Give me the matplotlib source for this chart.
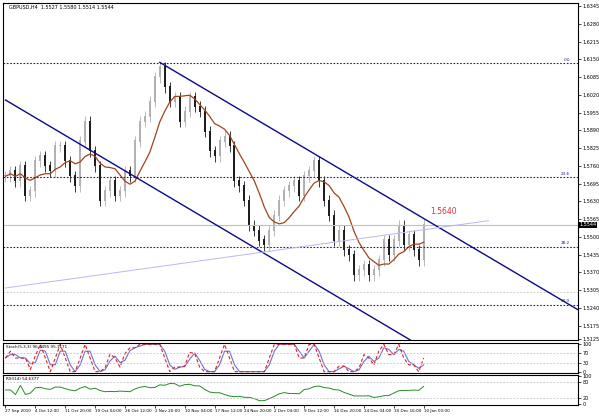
import numpy as np
import pandas as pd
import matplotlib
matplotlib.use("Agg")
import matplotlib.pyplot as plt

# closes of GBPUSD H4, compressed (one value ~ 5 px of the original chart)
closes = [1.5722, 1.5740, 1.5704, 1.5759, 1.5650, 1.5668, 1.5777, 1.5795, 1.5759, 1.5740,
          1.5831, 1.5831, 1.5777, 1.5722, 1.5686, 1.5849, 1.5921, 1.5813, 1.5759, 1.5632,
          1.5668, 1.5704, 1.5650, 1.5668, 1.5740, 1.5722, 1.5849, 1.5921, 1.5940, 1.5994,
          1.6084, 1.6121, 1.6048, 1.5994, 1.6012, 1.5921, 1.5958, 1.6012, 1.5976, 1.5958,
          1.5885, 1.5813, 1.5795, 1.5849, 1.5867, 1.5831, 1.5704, 1.5686, 1.5632, 1.5541,
          1.5523, 1.5487, 1.5469, 1.5523, 1.5577, 1.5632, 1.5668, 1.5686, 1.5704, 1.5650,
          1.5722, 1.5740, 1.5777, 1.5704, 1.5632, 1.5577, 1.5487, 1.5523, 1.5451, 1.5433,
          1.5360, 1.5378, 1.5396, 1.5360, 1.5378, 1.5415, 1.5487, 1.5433, 1.5487, 1.5541,
          1.5469, 1.5505, 1.5451, 1.5415, 1.5544]
price_ticks = [1.6345, 1.6280, 1.6215, 1.6150, 1.6085, 1.6020, 1.5955, 1.5890, 1.5825, 1.5760,
               1.5695, 1.5630, 1.5565, 1.5500, 1.5435, 1.5370, 1.5305, 1.5240, 1.5175, 1.5125]
date_labels = ["27 Sep 2010", "4 Oct 12:00", "11 Oct 20:00", "19 Oct 04:00", "26 Oct 12:00",
               "2 Nov 20:00", "10 Nov 04:00", "17 Nov 12:00", "24 Nov 20:00", "2 Dec 04:00",
               "9 Dec 12:00", "16 Dec 20:00", "24 Dec 04:00", "30 Dec 16:00", "10 Jan 00:00"]
fib_levels = [1.6135, 1.5719, 1.5465, 1.5252]
fib_names = ["0.0", "23.6", "38.2", "50.0"]
last_price = 1.5544

W, H = 599, 416
fig = plt.figure(figsize=(W / 100, H / 100), dpi=100)
fig.patch.set_facecolor("white")


def px_axes(x0, y0, x1, y1):
    return fig.add_axes([x0 / W, 1 - y1 / H, (x1 - x0) / W, (y1 - y0) / H])


def idx(px):
    return (px - 3) / 5.0


n = len(closes)
xs = np.arange(n)
c = np.array(closes)
o = np.r_[c[0], c[:-1]]
hi = np.maximum(o, c) + 0.0020
lo = np.minimum(o, c) - 0.0020
xmax = idx(578)

ax = px_axes(3, 3, 578, 340)
ax.set_xlim(0 - 0.5, xmax)
ax.set_ylim(1.5125 - 0.0002, 1.6345 + 0.0011)
for i in range(n):
    col = "#1a1a1a" if c[i] < o[i] else "#b0b0b0"
    ax.vlines(xs[i], lo[i], hi[i], color=col, lw=0.6)
    ax.vlines(xs[i], min(o[i], c[i]), max(o[i], c[i]) + 0.0004, color=col, lw=1.4)
ma = pd.Series(c).rolling(8, min_periods=1).mean().values
ax.plot(xs, ma, color="#a0441c", lw=0.9)

# fibo levels
for lv, nm in zip(fib_levels, fib_names):
    ax.axhline(lv, color="#1a1a8c", ls=(0, (1.5, 1.5)), lw=0.8)
    ax.text(idx(570), lv + 0.0005, nm, color="#1a1a8c", fontsize=3, ha="right", va="bottom")
ax.axhline(last_price, color="#c0c0c0", lw=0.8)
ax.axhline(1.5300, color="#c0c0c0", ls=(0, (2, 2)), lw=0.6)

# channel and trendline
p = lambda y: 1.6345 - (y - 3) * 0.000362
ax.plot([idx(158), idx(578)], [p(60), p(310)], color="#0a0a8a", lw=1.0)
ax.plot([idx(3), idx(412)], [p(98), p(342)], color="#0a0a8a", lw=1.0)
ax.plot([idx(3), idx(488)], [p(288), p(220)], color="#b8b8f0", lw=0.7)
ax.text(idx(430), p(213), "1.5640", color="#e03030", fontsize=5.5)
ax.text(0.01, 0.995, "GBPUSD,H4  1.5527 1.5580 1.5514 1.5544", transform=ax.transAxes,
        fontsize=3.5, va="top")

ax.yaxis.tick_right()
ax.set_yticks(price_ticks)
ax.set_yticklabels([f"{t:.4f}" for t in price_ticks], fontsize=3.5)
ax.set_xticks([])
ax.tick_params(axis="y", length=2, width=0.5, pad=1)
ax.text(xmax + 0.3, last_price, f"{last_price:.4f}", fontsize=3.5, color="white", va="center",
        bbox=dict(boxstyle="square,pad=0.15", fc="black", ec="none"), clip_on=False)

# stochastic
k_period = 3
low_n = pd.Series(c).rolling(k_period, min_periods=1).min()
high_n = pd.Series(c).rolling(k_period, min_periods=1).max()
k = (100 * (pd.Series(c) - low_n) / (high_n - low_n).replace(0, np.nan)).fillna(50)
k = k.rolling(2, min_periods=1).mean()
d = k.rolling(2, min_periods=1).mean()
ax2 = px_axes(3, 343, 578, 373)
ax2.set_xlim(0 - 0.5, xmax)
ax2.set_ylim(-5, 105)
ax2.plot(xs, d, color="#7070d0", lw=0.8)
ax2.plot(xs, k, color="#e02020", lw=0.8, ls=(0, (3, 2)))
for lv in (30, 70):
    ax2.axhline(lv, color="#c0c0c0", ls=(0, (2, 2)), lw=0.6)
ax2.text(0.005, 0.95, "Stoch(5,3,3) 96.1495 95.1171", transform=ax2.transAxes, fontsize=3, va="top")
ax2.yaxis.tick_right()
ax2.set_yticks([0, 30, 70, 100])
ax2.set_yticklabels(["0", "30", "70", "100"], fontsize=3.5)
ax2.set_xticks([])
ax2.tick_params(axis="y", length=2, width=0.5, pad=1)

# RSI
delta = pd.Series(c).diff().fillna(0)
gain = delta.clip(lower=0).rolling(14, min_periods=1).mean()
loss = (-delta.clip(upper=0)).rolling(14, min_periods=1).mean()
rsi = (100 - 100 / (1 + gain / loss.replace(0, np.nan))).fillna(50)
ax3 = px_axes(3, 375, 578, 405)
ax3.set_xlim(0 - 0.5, xmax)
ax3.set_ylim(-5, 105)
ax3.plot(xs, rsi, color="#2a8a2a", lw=0.7)
for lv in (20, 80):
    ax3.axhline(lv, color="#c0c0c0", ls=(0, (2, 2)), lw=0.6)
ax3.text(0.005, 0.95, "RSI(14) 54.6377", transform=ax3.transAxes, fontsize=3, va="top")
ax3.yaxis.tick_right()
ax3.set_yticks([0, 20, 80, 100])
ax3.set_yticklabels(["0", "20", "80", "100"], fontsize=3.5)
ax3.set_xticks([idx(3 + 30 * i) for i in range(len(date_labels))])
ax3.set_xticklabels(date_labels, fontsize=3, ha="left")
ax3.tick_params(axis="x", length=2, width=0.5, pad=1)
ax3.tick_params(axis="y", length=2, width=0.5, pad=1)

for a in (ax, ax2, ax3):
    for s in a.spines.values():
        s.set_linewidth(0.8)

fig.savefig("out.png", dpi=100)
